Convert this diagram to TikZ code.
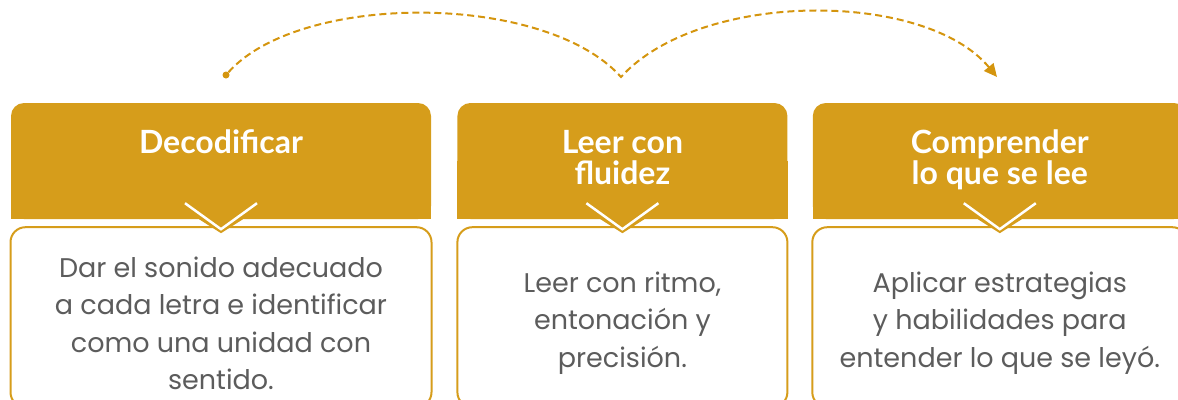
\documentclass[tikz,border=0pt]{standalone}
\usepackage{fontspec}
\setmainfont{Poppins}
\newfontfamily\headfont{Lato}
\usetikzlibrary{positioning,arrows.meta}
\definecolor{gold}{RGB}{214,157,27}
\definecolor{trailgold}{RGB}{212,149,14}
\definecolor{ink}{RGB}{92,92,92}
\tikzset{
  head/.style={fill=gold,rounded corners=13,minimum height=116,inner sep=0pt},
  headtext/.style={text=white,align=center,inner sep=0pt,anchor=north,font=\headfont\bfseries\fontsize{32}{31}\selectfont},
  bodybox/.style={draw=gold,line width=2,rounded corners=15,minimum height=180,inner sep=0pt},
  bodytext/.style={text=ink,align=center,inner sep=0pt,font=\fontsize{27}{37.5}\selectfont},
  trail/.style={trailgold,line width=2,dash pattern=on 7 off 4}
}
\begin{document}
\begin{tikzpicture}[x=1pt,y=-1pt,>={Triangle[length=13,width=12]}]
	\useasboundingbox (0,0) rectangle (1178,399);

	% headers
	\node[head,minimum width=420] (h1) at (221,161) {};
	\node[head,minimum width=330] (h2) [right=26pt of h1] {};
	\node[head,minimum width=374] (h3) [right=25pt of h2] {};
	\fill[gold] (h1.west) rectangle (h1.south east);
	\fill[gold] (h2.west) rectangle (h2.south east);
	\fill[gold] (h3.west) rectangle (h3.south east);

	\node[headtext] (t1) at ([yshift=-27]h1.north) {Decodificar};
	\node[headtext] (t2) at ([yshift=-27]h2.north) {Leer con\\fluidez};
	\node[headtext] (t3) at ([yshift=-27]h3.north) {Comprender\\lo que se lee};

	% bodies
	\node[bodybox,minimum width=421] (b1) [below=7pt of h1] {};
	\node[bodybox,minimum width=330] (b2) [below=7pt of h2] {};
	\node[bodybox,minimum width=375] (b3) [below=7pt of h3] {};

	\node[bodytext] (d1) at ([yshift=-6]b1.center) {Dar el sonido adecuado\\a cada letra e identificar\\como una unidad con\\sentido.};
	\node[bodytext] (d2) at ([yshift=-6]b2.center) {Leer con ritmo,\\entonación y\\precisión.};
	\node[bodytext] (d3) at ([yshift=-6]b3.center) {Aplicar estrategias\\y habilidades para\\entender lo que se leyó.};

	% pointers
	\fill[gold] ([xshift=-22]h1.south) -- ([xshift=22]h1.south) -- ([yshift=-14]h1.south) -- cycle;
	\fill[gold] ([xshift=-22]h2.south) -- ([xshift=22]h2.south) -- ([yshift=-14]h2.south) -- cycle;
	\fill[gold] ([xshift=-22]h3.south) -- ([xshift=22]h3.south) -- ([yshift=-14]h3.south) -- cycle;
	\draw[white,line width=2.5] ([xshift=-36,yshift=16]h1.south) -- ([yshift=-10]h1.south) -- ([xshift=36,yshift=16]h1.south);
	\draw[white,line width=2.5] ([xshift=-36,yshift=16]h2.south) -- ([yshift=-10]h2.south) -- ([xshift=36,yshift=16]h2.south);
	\draw[white,line width=2.5] ([xshift=-36,yshift=16]h3.south) -- ([yshift=-10]h3.south) -- ([xshift=36,yshift=16]h3.south);

	% dashed trail
	\node[circle,fill=trailgold,inner sep=0pt,minimum size=7] (start) at (226,75) {};
	\coordinate (dip) at (621,77);
	\coordinate (goal) at (997,77);
	\draw[trail,->] (start) .. controls (300,-8) and (545,-8) .. (dip)
		.. controls (700,-10) and (925,-10) .. (goal);
\end{tikzpicture}
\end{document}
